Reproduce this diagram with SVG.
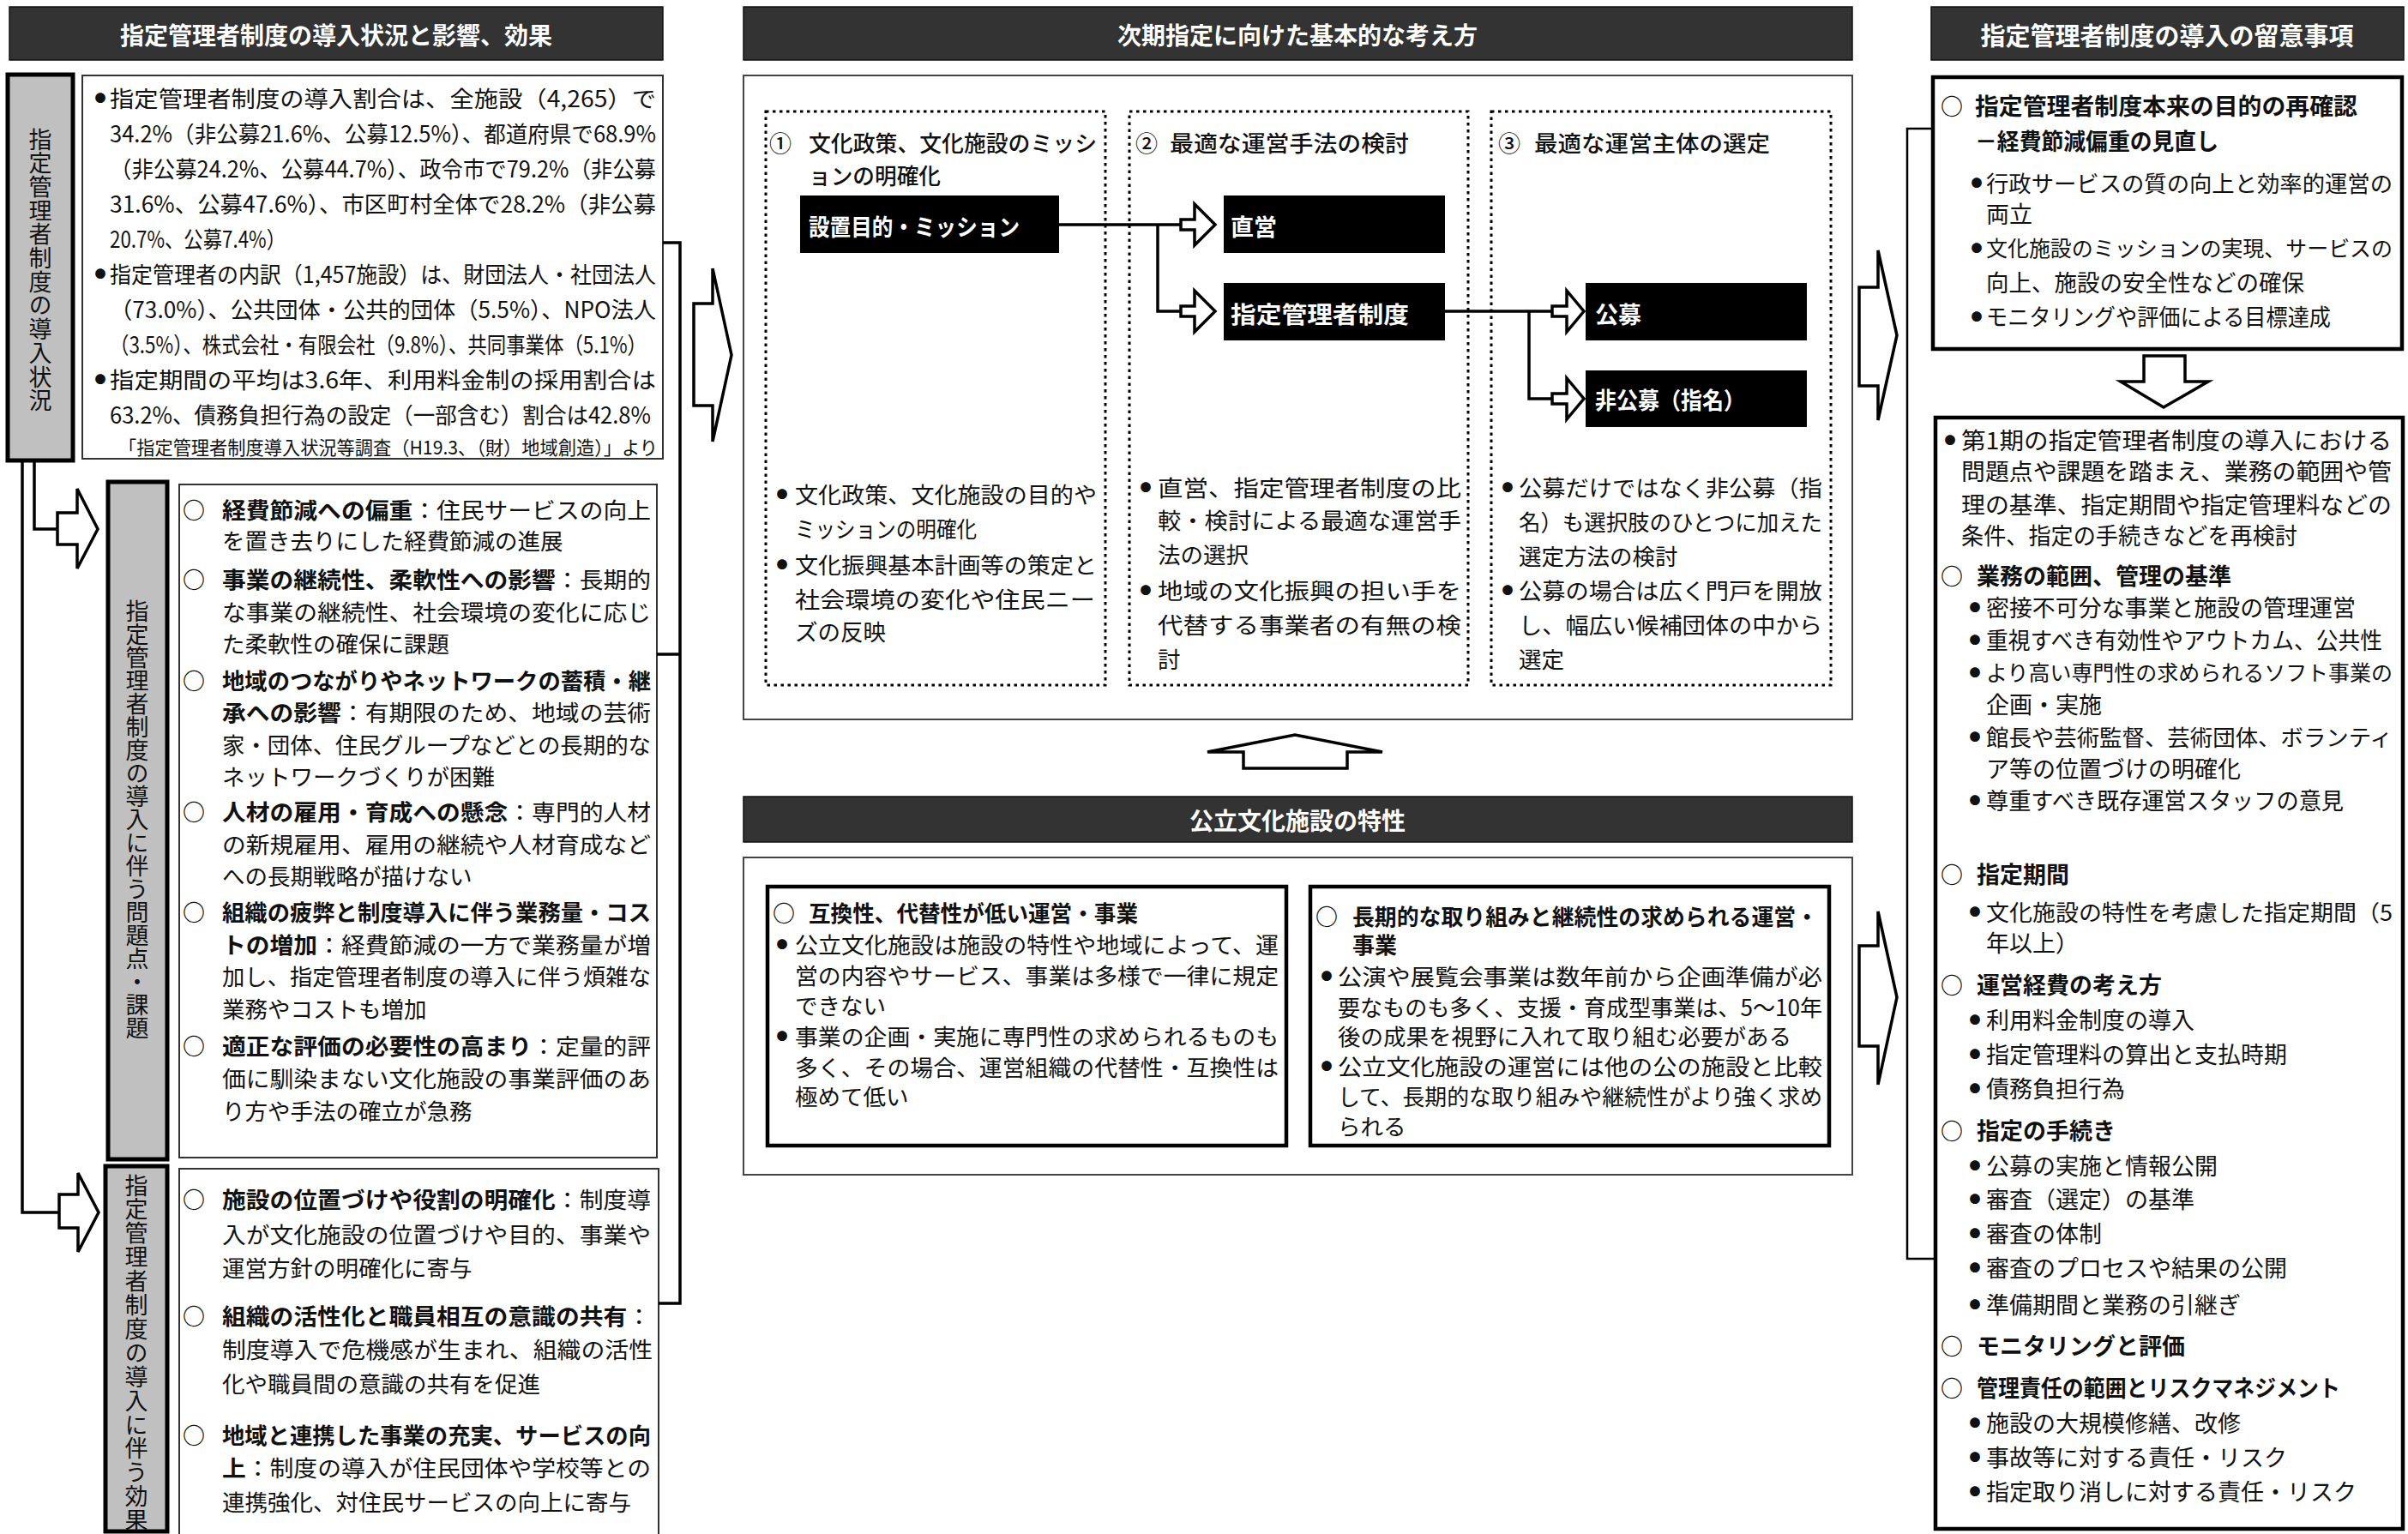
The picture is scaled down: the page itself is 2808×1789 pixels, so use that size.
<svg xmlns="http://www.w3.org/2000/svg" width="2808" height="1789" viewBox="0 0 2808 1789">
<style>
text{font-family:"Noto Sans CJK JP","Noto Sans",sans-serif;fill:#111;dominant-baseline:central}
.t{font-size:26.5px}
.s{font-size:27px}
.m{font-size:26px}
.tt{font-size:26px;font-weight:500}
.b{font-weight:bold}
.hd{font-size:28px;font-weight:bold;fill:#fff;text-anchor:middle}
.bx{font-size:27px;font-weight:bold;fill:#fff}
.bul{font-size:13px;text-anchor:middle}
.ci{font-size:26px;font-weight:bold;text-anchor:middle}
.v{font-size:27px;text-anchor:middle;writing-mode:vertical-rl}
.hdr{fill:#333;stroke:#111;stroke-width:1.5}
.gl{fill:#c0c0c0;stroke:#000;stroke-width:5}
.tb{fill:#fff;stroke:#333;stroke-width:2}
.tk{fill:#fff;stroke:#000;stroke-width:4.5}
.dot{fill:none;stroke:#000;stroke-width:3;stroke-dasharray:3.5 4.5}
.blk{fill:#000}
.ln{fill:none;stroke:#000;stroke-width:3.5}
.lt{fill:none;stroke:#000;stroke-width:2.5}
.ar{fill:#fff;stroke:#000;stroke-width:3.5;stroke-linejoin:miter}
</style>

<!-- LEFT COLUMN -->
<g id="hdr-left">
<rect class="hdr" x="11" y="8" width="762" height="62"/>
<text class="hd" x="392" y="40">指定管理者制度の導入状況と影響、効果</text>
</g>

<g id="status-label">
<rect class="gl" x="9" y="87" width="76" height="450"/>
<text class="v" x="47" y="315" letter-spacing="0.7">指定管理者制度の導入状況</text>
</g>

<g id="status-box">
<rect class="tb" x="96" y="88" width="677" height="447"/>
<text class="bul" x="117" y="113">●</text>
<text class="t" x="128" y="113" textLength="637" lengthAdjust="spacingAndGlyphs">指定管理者制度の導入割合は、全施設（4,265）で</text>
<text class="t" x="128" y="154" textLength="637" lengthAdjust="spacingAndGlyphs">34.2%（非公募21.6%、公募12.5%）、都道府県で68.9%</text>
<text class="t" x="128" y="195" textLength="637" lengthAdjust="spacingAndGlyphs">（非公募24.2%、公募44.7%）、政令市で79.2%（非公募</text>
<text class="t" x="128" y="236" textLength="637" lengthAdjust="spacingAndGlyphs">31.6%、公募47.6%）、市区町村全体で28.2%（非公募</text>
<text class="t" x="128" y="277" textLength="205" lengthAdjust="spacingAndGlyphs">20.7%、公募7.4%）</text>
<text class="bul" x="117" y="318">●</text>
<text class="t" x="128" y="318" textLength="637" lengthAdjust="spacingAndGlyphs">指定管理者の内訳（1,457施設）は、財団法人・社団法人</text>
<text class="t" x="128" y="359" textLength="637" lengthAdjust="spacingAndGlyphs">（73.0%）、公共団体・公共的団体（5.5%）、NPO法人</text>
<text class="t" x="128" y="400" textLength="626" lengthAdjust="spacingAndGlyphs">（3.5%）、株式会社・有限会社（9.8%）、共同事業体（5.1%）</text>
<text class="bul" x="117" y="441">●</text>
<text class="t" x="128" y="441" textLength="637" lengthAdjust="spacingAndGlyphs">指定期間の平均は3.6年、利用料金制の採用割合は</text>
<text class="t" x="128" y="482" textLength="631" lengthAdjust="spacingAndGlyphs">63.2%、債務負担行為の設定（一部含む）割合は42.8%</text>
<text class="t" x="138" y="520" style="font-size:22px" textLength="629" lengthAdjust="spacingAndGlyphs">「指定管理者制度導入状況等調査（H19.3、（財）地域創造）」より</text>
</g>

<g id="issues-label">
<rect class="gl" x="126" y="562" width="69" height="790"/>
<text class="v" x="160" y="956">指定管理者制度の導入に伴う問題点・課題</text>
</g>

<g id="issues-box">
<rect class="tb" x="209" y="565" width="557" height="785"/>
<text class="ci" x="226" y="593">○</text>
<text class="t" x="259" y="593" textLength="500" lengthAdjust="spacingAndGlyphs"><tspan class="b">経費節減への偏重</tspan>：住民サービスの向上</text>
<text class="t" x="259" y="629">を置き去りにした経費節減の進展</text>
<text class="ci" x="226" y="674">○</text>
<text class="t" x="259" y="674" textLength="500" lengthAdjust="spacingAndGlyphs"><tspan class="b">事業の継続性、柔軟性への影響</tspan>：長期的</text>
<text class="t" x="259" y="712" textLength="500" lengthAdjust="spacingAndGlyphs">な事業の継続性、社会環境の変化に応じ</text>
<text class="t" x="259" y="749">た柔軟性の確保に課題</text>
<text class="ci" x="226" y="792">○</text>
<text class="t b" x="259" y="792" textLength="500" lengthAdjust="spacingAndGlyphs">地域のつながりやネットワークの蓄積・継</text>
<text class="t" x="259" y="829" textLength="500" lengthAdjust="spacingAndGlyphs"><tspan class="b">承への影響</tspan>：有期限のため、地域の芸術</text>
<text class="t" x="259" y="867" textLength="500" lengthAdjust="spacingAndGlyphs">家・団体、住民グループなどとの長期的な</text>
<text class="t" x="259" y="904">ネットワークづくりが困難</text>
<text class="ci" x="226" y="945">○</text>
<text class="t" x="259" y="945" textLength="500" lengthAdjust="spacingAndGlyphs"><tspan class="b">人材の雇用・育成への懸念</tspan>：専門的人材</text>
<text class="t" x="259" y="983" textLength="500" lengthAdjust="spacingAndGlyphs">の新規雇用、雇用の継続や人材育成など</text>
<text class="t" x="259" y="1020">への長期戦略が描けない</text>
<text class="ci" x="226" y="1062">○</text>
<text class="t b" x="259" y="1062" textLength="500" lengthAdjust="spacingAndGlyphs">組織の疲弊と制度導入に伴う業務量・コス</text>
<text class="t" x="259" y="1100" textLength="500" lengthAdjust="spacingAndGlyphs"><tspan class="b">トの増加</tspan>：経費節減の一方で業務量が増</text>
<text class="t" x="259" y="1137" textLength="500" lengthAdjust="spacingAndGlyphs">加し、指定管理者制度の導入に伴う煩雑な</text>
<text class="t" x="259" y="1175">業務やコストも増加</text>
<text class="ci" x="226" y="1218">○</text>
<text class="t" x="259" y="1218" textLength="500" lengthAdjust="spacingAndGlyphs"><tspan class="b">適正な評価の必要性の高まり</tspan>：定量的評</text>
<text class="t" x="259" y="1256" textLength="500" lengthAdjust="spacingAndGlyphs">価に馴染まない文化施設の事業評価のあ</text>
<text class="t" x="259" y="1294">り方や手法の確立が急務</text>
</g>

<g id="effects-label">
<rect class="gl" x="123" y="1360" width="72" height="426"/>
<text class="v" x="159" y="1578" letter-spacing="0.9">指定管理者制度の導入に伴う効果</text>
</g>

<g id="effects-box">
<rect class="tb" x="209" y="1363" width="559" height="440"/>
<text class="ci" x="226" y="1397">○</text>
<text class="t" x="259" y="1397" textLength="500" lengthAdjust="spacingAndGlyphs"><tspan class="b">施設の位置づけや役割の明確化</tspan>：制度導</text>
<text class="t" x="259" y="1438" textLength="500" lengthAdjust="spacingAndGlyphs">入が文化施設の位置づけや目的、事業や</text>
<text class="t" x="259" y="1477">運営方針の明確化に寄与</text>
<text class="ci" x="226" y="1533">○</text>
<text class="t" x="259" y="1533" textLength="500" lengthAdjust="spacingAndGlyphs"><tspan class="b">組織の活性化と職員相互の意識の共有</tspan>：</text>
<text class="t" x="259" y="1572" textLength="502" lengthAdjust="spacingAndGlyphs">制度導入で危機感が生まれ、組織の活性</text>
<text class="t" x="259" y="1612">化や職員間の意識の共有を促進</text>
<text class="ci" x="226" y="1672">○</text>
<text class="t b" x="259" y="1672" textLength="500" lengthAdjust="spacingAndGlyphs">地域と連携した事業の充実、サービスの向</text>
<text class="t" x="259" y="1710" textLength="500" lengthAdjust="spacingAndGlyphs"><tspan class="b">上</tspan>：制度の導入が住民団体や学校等との</text>
<text class="t" x="259" y="1750">連携強化、対住民サービスの向上に寄与</text>
</g>

<!-- MIDDLE COLUMN -->
<g id="hdr-mid">
<rect class="hdr" x="867" y="8" width="1293" height="62"/>
<text class="hd" x="1513" y="40">次期指定に向けた基本的な考え方</text>
</g>

<g id="basic-box">
<rect x="867" y="88" width="1293" height="751" fill="#fff" stroke="#444" stroke-width="2"/>
</g>

<g id="col1">
<rect class="dot" x="893" y="130" width="396" height="669"/>
<text class="tt" x="910" y="165" text-anchor="middle">①</text>
<text class="tt" x="943" y="165" textLength="336" lengthAdjust="spacingAndGlyphs">文化政策、文化施設のミッシ</text>
<text class="tt" x="943" y="203" textLength="154" lengthAdjust="spacingAndGlyphs">ョンの明確化</text>
<text class="bul" x="912" y="575">●</text>
<text class="t" x="927" y="575" textLength="352" lengthAdjust="spacingAndGlyphs">文化政策、文化施設の目的や</text>
<text class="t" x="927" y="615" textLength="212" lengthAdjust="spacingAndGlyphs">ミッションの明確化</text>
<text class="bul" x="912" y="657">●</text>
<text class="t" x="927" y="657" textLength="352" lengthAdjust="spacingAndGlyphs">文化振興基本計画等の策定と</text>
<text class="t" x="927" y="697" textLength="350" lengthAdjust="spacingAndGlyphs">社会環境の変化や住民ニー</text>
<text class="t" x="927" y="735">ズの反映</text>
</g>

<g id="col2">
<rect class="dot" x="1317" y="130" width="395" height="669"/>
<text class="tt" x="1337" y="165" text-anchor="middle">②</text>
<text class="tt" x="1364" y="165" textLength="279" lengthAdjust="spacingAndGlyphs">最適な運営手法の検討</text>
<text class="bul" x="1336" y="567">●</text>
<text class="t" x="1350" y="567" textLength="354" lengthAdjust="spacingAndGlyphs">直営、指定管理者制度の比</text>
<text class="t" x="1350" y="605" textLength="354" lengthAdjust="spacingAndGlyphs">較・検討による最適な運営手</text>
<text class="t" x="1350" y="645">法の選択</text>
<text class="bul" x="1336" y="687">●</text>
<text class="t" x="1350" y="687" textLength="354" lengthAdjust="spacingAndGlyphs">地域の文化振興の担い手を</text>
<text class="t" x="1350" y="727" textLength="354" lengthAdjust="spacingAndGlyphs">代替する事業者の有無の検</text>
<text class="t" x="1350" y="767">討</text>
</g>

<g id="col3">
<rect class="dot" x="1739" y="130" width="396" height="669"/>
<text class="tt" x="1760" y="165" text-anchor="middle">③</text>
<text class="tt" x="1789" y="165" textLength="275" lengthAdjust="spacingAndGlyphs">最適な運営主体の選定</text>
<text class="bul" x="1758" y="567">●</text>
<text class="t" x="1771" y="567" textLength="354" lengthAdjust="spacingAndGlyphs">公募だけではなく非公募（指</text>
<text class="t" x="1771" y="607" textLength="354" lengthAdjust="spacingAndGlyphs">名）も選択肢のひとつに加えた</text>
<text class="t" x="1771" y="647">選定方法の検討</text>
<text class="bul" x="1758" y="687">●</text>
<text class="t" x="1771" y="687" textLength="354" lengthAdjust="spacingAndGlyphs">公募の場合は広く門戸を開放</text>
<text class="t" x="1771" y="727" textLength="354" lengthAdjust="spacingAndGlyphs">し、幅広い候補団体の中から</text>
<text class="t" x="1771" y="767">選定</text>
</g>

<g id="box-mission">
<rect class="blk" x="933" y="228" width="302" height="67"/>
<text class="bx" x="943" y="263" textLength="246" lengthAdjust="spacingAndGlyphs">設置目的・ミッション</text>
</g>
<g id="box-direct">
<rect class="blk" x="1427" y="228" width="258" height="67"/>
<text class="bx" x="1435" y="263">直営</text>
</g>
<g id="box-shitei">
<rect class="blk" x="1427" y="330" width="258" height="67"/>
<text class="bx" x="1435" y="365" textLength="208" lengthAdjust="spacingAndGlyphs">指定管理者制度</text>
</g>
<g id="box-koubo">
<rect class="blk" x="1849" y="330" width="258" height="67"/>
<text class="bx" x="1860" y="365">公募</text>
</g>
<g id="box-hikoubo">
<rect class="blk" x="1849" y="432" width="258" height="66"/>
<text class="bx" x="1860" y="465" textLength="175" lengthAdjust="spacingAndGlyphs">非公募（指名）</text>
</g>

<g id="hdr-char">
<rect class="hdr" x="867" y="929" width="1293" height="53"/>
<text class="hd" x="1513" y="956">公立文化施設の特性</text>
</g>

<g id="char-box">
<rect x="867" y="1000" width="1293" height="370" fill="#fff" stroke="#444" stroke-width="2"/>
</g>

<g id="char-left">
<rect class="tk" x="895" y="1034" width="605" height="302"/>
<text class="ci" x="914" y="1063">○</text>
<text class="m b" x="943" y="1063" textLength="384" lengthAdjust="spacingAndGlyphs">互換性、代替性が低い運営・事業</text>
<text class="bul" x="912" y="1100">●</text>
<text class="t" x="927" y="1100" textLength="564" lengthAdjust="spacingAndGlyphs">公立文化施設は施設の特性や地域によって、運</text>
<text class="t" x="927" y="1136" textLength="564" lengthAdjust="spacingAndGlyphs">営の内容やサービス、事業は多様で一律に規定</text>
<text class="t" x="927" y="1171">できない</text>
<text class="bul" x="912" y="1207">●</text>
<text class="t" x="927" y="1207" textLength="564" lengthAdjust="spacingAndGlyphs">事業の企画・実施に専門性の求められるものも</text>
<text class="t" x="927" y="1243" textLength="564" lengthAdjust="spacingAndGlyphs">多く、その場合、運営組織の代替性・互換性は</text>
<text class="t" x="927" y="1277">極めて低い</text>
</g>

<g id="char-right">
<rect class="tk" x="1528" y="1034" width="605" height="302"/>
<text class="ci" x="1547" y="1067">○</text>
<text class="m b" x="1577" y="1067" textLength="543" lengthAdjust="spacingAndGlyphs">長期的な取り組みと継続性の求められる運営・</text>
<text class="m b" x="1577" y="1100">事業</text>
<text class="bul" x="1547" y="1137">●</text>
<text class="t" x="1560" y="1137" textLength="565" lengthAdjust="spacingAndGlyphs">公演や展覧会事業は数年前から企画準備が必</text>
<text class="t" x="1560" y="1173" textLength="565" lengthAdjust="spacingAndGlyphs">要なものも多く、支援・育成型事業は、5～10年</text>
<text class="t" x="1560" y="1207" textLength="529" lengthAdjust="spacingAndGlyphs">後の成果を視野に入れて取り組む必要がある</text>
<text class="bul" x="1547" y="1242">●</text>
<text class="t" x="1560" y="1242" textLength="565" lengthAdjust="spacingAndGlyphs">公立文化施設の運営には他の公の施設と比較</text>
<text class="t" x="1560" y="1277" textLength="565" lengthAdjust="spacingAndGlyphs">して、長期的な取り組みや継続性がより強く求め</text>
<text class="t" x="1560" y="1312">られる</text>
</g>

<!-- RIGHT COLUMN -->
<g id="hdr-right">
<rect class="hdr" x="2252" y="8" width="551" height="62"/>
<text class="hd" x="2527" y="40" style="font-size:29px">指定管理者制度の導入の留意事項</text>
</g>

<g id="note-box1">
<rect class="tk" x="2254" y="90" width="547" height="317"/>
<text class="ci" x="2276" y="122">○</text>
<text class="s b" x="2303" y="122" textLength="446" lengthAdjust="spacingAndGlyphs">指定管理者制度本来の目的の再確認</text>
<text class="s b" x="2303" y="163" textLength="284" lengthAdjust="spacingAndGlyphs">－経費節減偏重の見直し</text>
<text class="bul" x="2305" y="212">●</text>
<text class="s" x="2316" y="212" style="font-size:26px" textLength="474" lengthAdjust="spacingAndGlyphs">行政サービスの質の向上と効率的運営の</text>
<text class="s" x="2316" y="248">両立</text>
<text class="bul" x="2305" y="288">●</text>
<text class="s" x="2316" y="288" style="font-size:24.5px" textLength="474" lengthAdjust="spacingAndGlyphs">文化施設のミッションの実現、サービスの</text>
<text class="s" x="2316" y="328" textLength="371" lengthAdjust="spacingAndGlyphs">向上、施設の安全性などの確保</text>
<text class="bul" x="2305" y="368">●</text>
<text class="s" x="2316" y="368" textLength="402" lengthAdjust="spacingAndGlyphs">モニタリングや評価による目標達成</text>
</g>

<g id="note-box2">
<rect class="tk" x="2257" y="487" width="545" height="1296"/>
<text class="bul" x="2274" y="512">●</text>
<text class="s" x="2287" y="512" textLength="502" lengthAdjust="spacingAndGlyphs">第1期の指定管理者制度の導入における</text>
<text class="s" x="2287" y="548" textLength="502" lengthAdjust="spacingAndGlyphs">問題点や課題を踏まえ、業務の範囲や管</text>
<text class="s" x="2287" y="587" textLength="502" lengthAdjust="spacingAndGlyphs">理の基準、指定期間や指定管理料などの</text>
<text class="s" x="2287" y="623" textLength="392" lengthAdjust="spacingAndGlyphs">条件、指定の手続きなどを再検討</text>
<text class="ci" x="2276" y="670">○</text>
<text class="s b" x="2305" y="670">業務の範囲、管理の基準</text>
<text class="bul" x="2303" y="707">●</text>
<text class="s" x="2316" y="707" textLength="431" lengthAdjust="spacingAndGlyphs">密接不可分な事業と施設の管理運営</text>
<text class="bul" x="2303" y="745">●</text>
<text class="s" x="2316" y="745" textLength="462" lengthAdjust="spacingAndGlyphs">重視すべき有効性やアウトカム、公共性</text>
<text class="bul" x="2303" y="783">●</text>
<text class="s" x="2316" y="783" style="font-size:24.5px" textLength="474" lengthAdjust="spacingAndGlyphs">より高い専門性の求められるソフト事業の</text>
<text class="s" x="2316" y="820">企画・実施</text>
<text class="bul" x="2303" y="858">●</text>
<text class="s" x="2316" y="858" style="font-size:26px" textLength="474" lengthAdjust="spacingAndGlyphs">館長や芸術監督、芸術団体、ボランティ</text>
<text class="s" x="2316" y="895">ア等の位置づけの明確化</text>
<text class="bul" x="2303" y="932">●</text>
<text class="s" x="2316" y="932" textLength="417" lengthAdjust="spacingAndGlyphs">尊重すべき既存運営スタッフの意見</text>
<text class="ci" x="2276" y="1018">○</text>
<text class="s b" x="2305" y="1018">指定期間</text>
<text class="bul" x="2303" y="1062">●</text>
<text class="s" x="2316" y="1062" style="font-size:26px" textLength="474" lengthAdjust="spacingAndGlyphs">文化施設の特性を考慮した指定期間（5</text>
<text class="s" x="2316" y="1098">年以上）</text>
<text class="ci" x="2276" y="1147">○</text>
<text class="s b" x="2305" y="1147">運営経費の考え方</text>
<text class="bul" x="2303" y="1188">●</text>
<text class="s" x="2316" y="1188">利用料金制度の導入</text>
<text class="bul" x="2303" y="1228">●</text>
<text class="s" x="2316" y="1228">指定管理料の算出と支払時期</text>
<text class="bul" x="2303" y="1268">●</text>
<text class="s" x="2316" y="1268">債務負担行為</text>
<text class="ci" x="2276" y="1317">○</text>
<text class="s b" x="2305" y="1317">指定の手続き</text>
<text class="bul" x="2303" y="1358">●</text>
<text class="s" x="2316" y="1358">公募の実施と情報公開</text>
<text class="bul" x="2303" y="1397">●</text>
<text class="s" x="2316" y="1397">審査（選定）の基準</text>
<text class="bul" x="2303" y="1437">●</text>
<text class="s" x="2316" y="1437">審査の体制</text>
<text class="bul" x="2303" y="1477">●</text>
<text class="s" x="2316" y="1477">審査のプロセスや結果の公開</text>
<text class="bul" x="2303" y="1520">●</text>
<text class="s" x="2316" y="1520">準備期間と業務の引継ぎ</text>
<text class="ci" x="2276" y="1568">○</text>
<text class="s b" x="2305" y="1568">モニタリングと評価</text>
<text class="ci" x="2276" y="1617">○</text>
<text class="s b" x="2305" y="1617" textLength="424" lengthAdjust="spacingAndGlyphs">管理責任の範囲とリスクマネジメント</text>
<text class="bul" x="2303" y="1658">●</text>
<text class="s" x="2316" y="1658">施設の大規模修繕、改修</text>
<text class="bul" x="2303" y="1698">●</text>
<text class="s" x="2316" y="1698">事故等に対する責任・リスク</text>
<text class="bul" x="2303" y="1738">●</text>
<text class="s" x="2316" y="1738">指定取り消しに対する責任・リスク</text>
</g>

<!-- CONNECTORS -->
<g id="connectors">
<polyline class="ln" points="40,539 40,617 67,617"/>
<polyline class="ln" points="26,539 26,1414 69,1414"/>
<polygon class="ar" points="67,598 90,598 90,570 114,617 90,663 90,635 67,635"/>
<polygon class="ar" points="69,1393 91,1393 91,1368 115,1414 91,1460 91,1432 69,1432"/>
<polyline class="ln" points="773,283 793,283 793,1520 768,1520"/>
<line class="ln" x1="766" y1="763" x2="793" y2="763"/>
<polygon class="ar" points="809,354 831,354 831,313 853,414 831,515 831,473 809,473"/>

<polyline class="ln" points="1235,262 1377,262"/>
<polyline class="ln" points="1350,262 1350,363 1377,363"/>
<polygon class="ar" points="1377,256 1393,256 1393,238 1417,262 1393,286 1393,268 1377,268"/>
<polygon class="ar" points="1377,357 1393,357 1393,339 1417,363 1393,387 1393,369 1377,369"/>
<polyline class="ln" points="1685,363 1810,363"/>
<polyline class="ln" points="1783,363 1783,465 1810,465"/>
<polygon class="ar" points="1810,357 1827,357 1827,339 1847,363 1827,387 1827,369 1810,369"/>
<polygon class="ar" points="1810,459 1827,459 1827,441 1847,465 1827,489 1827,471 1810,471"/>

<polygon class="ar" points="1450,896 1450,877 1408,877 1510,857 1612,877 1571,877 1571,896"/>

<polygon class="ar" points="2168,335 2190,335 2190,292 2212,391 2190,490 2190,450 2168,450"/>
<polygon class="ar" points="2168,1103 2190,1103 2190,1063 2212,1163 2190,1265 2190,1220 2168,1220"/>
<polyline class="lt" points="2254,150 2224,150 2224,1468 2257,1468"/>
<polygon class="ar" points="2500,415 2548,415 2548,445 2575,445 2523,475 2473,445 2500,445"/>
</g>
</svg>
